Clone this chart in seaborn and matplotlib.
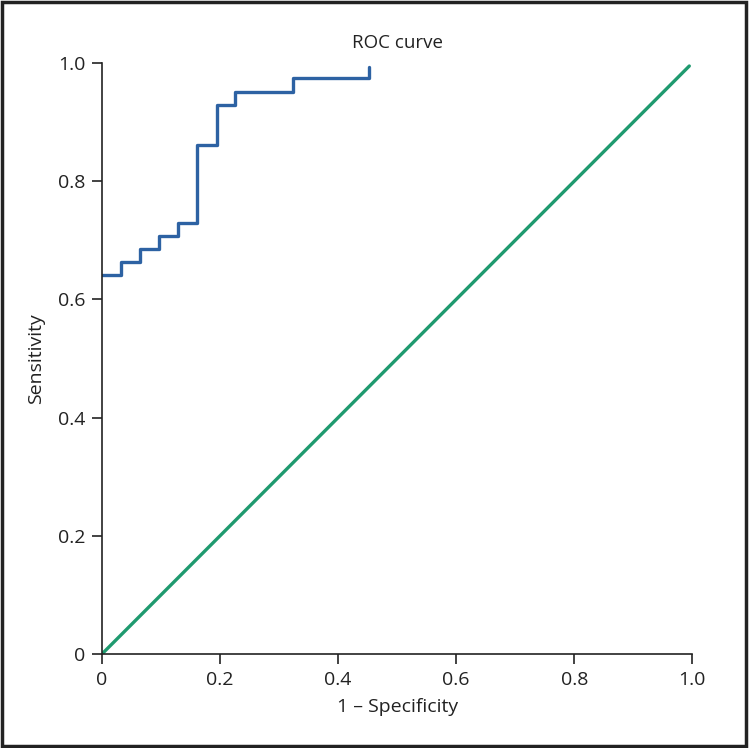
import matplotlib
matplotlib.use('Agg')
import matplotlib.pyplot as plt
import pandas as pd
import seaborn as sns

# ROC step points
fpr = [0.0, 0.032, 0.032, 0.065, 0.065, 0.097, 0.097, 0.129, 0.129, 0.161, 0.161,
       0.194, 0.194, 0.226, 0.226, 0.323, 0.323, 0.452, 0.452]
tpr = [0.641, 0.641, 0.663, 0.663, 0.685, 0.685, 0.707, 0.707, 0.730, 0.730, 0.862,
       0.862, 0.929, 0.929, 0.951, 0.951, 0.974, 0.974, 0.994]
ref_x = [0.0, 0.995]
ref_y = [0.0, 0.995]
ticks = [0, 0.2, 0.4, 0.6, 0.8, 1.0]
tick_labels = ['0', '0.2', '0.4', '0.6', '0.8', '1.0']

sns.set_style('ticks')
plt.rcParams['font.family'] = ['Open Sans', 'DejaVu Sans']

df_roc = pd.DataFrame({'fpr': fpr, 'tpr': tpr})
df_ref = pd.DataFrame({'x': ref_x, 'y': ref_y})

fig = plt.figure(figsize=(7.5, 7.48), dpi=100)
ax = fig.add_axes([0.136, 0.1257, 0.787, 0.790])

sns.lineplot(data=df_ref, x='x', y='y', ax=ax, color='#1f9a6f', linewidth=2.4,
             sort=False, estimator=None)
sns.lineplot(data=df_roc, x='fpr', y='tpr', ax=ax, color='#2d62a3', linewidth=2.4,
             sort=False, estimator=None)

ax.set_xlim(0, 1.0)
ax.set_ylim(0, 1.0)
ax.set_xticks(ticks)
ax.set_xticklabels(tick_labels)
ax.set_yticks(ticks)
ax.set_yticklabels(tick_labels)
ax.tick_params(direction='out', length=7, width=1.2, labelsize=14, colors='#222222', pad=5)
for side in ['top', 'right']:
    ax.spines[side].set_visible(False)
for side in ['left', 'bottom']:
    ax.spines[side].set_linewidth(1.2)
    ax.spines[side].set_color('#222222')

ax.set_title('ROC curve', fontsize=13.5, color='#222222', pad=11)
ax.set_xlabel('1 – Specificity', fontsize=14, color='#222222', labelpad=7)
ax.set_ylabel('Sensitivity', fontsize=14, color='#222222', labelpad=9)

# outer frame around the whole figure
frame = plt.Rectangle((0.003, 0.003), 0.992, 0.994, transform=fig.transFigure,
                      fill=False, edgecolor='#222222', linewidth=2.5)
fig.patches.append(frame)

fig.savefig('out.png', dpi=100)
